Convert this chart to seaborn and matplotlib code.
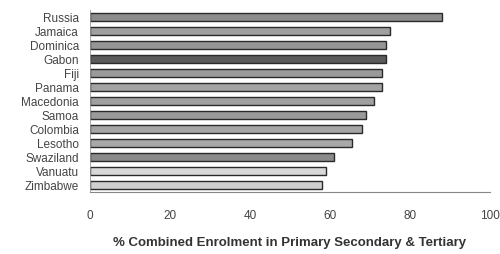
import seaborn as sns
import matplotlib.pyplot as plt
import pandas as pd

countries = ["Russia", "Jamaica", "Dominica", "Gabon", "Fiji", "Panama", "Macedonia",
             "Samoa", "Colombia", "Lesotho", "Swaziland", "Vanuatu", "Zimbabwe"]
enrolment = [88, 75, 74, 74, 73, 73, 71, 69, 68, 65.5, 61, 59, 58]
bar_colors = ["#8c8c8c", "#a0a0a0", "#959595", "#5a5a5a", "#9a9a9a", "#a3a3a3", "#a0a0a0",
              "#9a9a9a", "#a5a5a5", "#a8a8a8", "#8a8a8a", "#d8d8d8", "#d0d0d0"]

df = pd.DataFrame({"country": countries, "value": enrolment})

sns.set_style("white")
plt.rcParams['font.family'] = ['Liberation Sans', 'DejaVu Sans']

fig = plt.figure(figsize=(5, 2.54), dpi=100)
ax = fig.add_axes([0.18, 0.244, 0.8, 0.716])

sns.barplot(data=df, x="value", y="country", hue="country", palette=bar_colors,
            orient="h", width=0.55, edgecolor="#2a2a2a", linewidth=1.0,
            legend=False, ax=ax)

ax.set_xlim(0, 100)
ax.set_xticks([0, 20, 40, 60, 80, 100])
ax.tick_params(axis="x", length=0, pad=13, labelsize=8.5, labelcolor="#444444")
ax.tick_params(axis="y", length=2, pad=6, labelsize=8.5, labelcolor="#444444")
for s in ["top", "right"]:
    ax.spines[s].set_visible(False)
ax.spines["left"].set_color("#999999")
ax.spines["left"].set_linewidth(0.6)
ax.spines["bottom"].set_color("#888888")
ax.spines["bottom"].set_linewidth(0.8)
ax.set_ylabel("")
ax.set_xlabel("% Combined Enrolment in Primary Secondary & Tertiary",
              fontsize=9.5, fontweight="bold", color="#333333", labelpad=11)

fig.savefig("out.png", dpi=100)
